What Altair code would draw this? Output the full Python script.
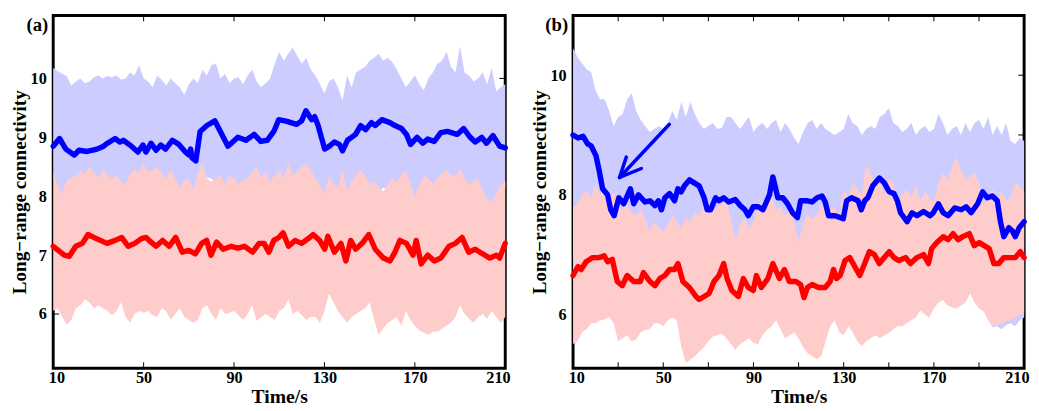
import altair as alt
import pandas as pd

# ---------------- shared grid for the shaded bands ----------------
T_GRID = list(range(10, 211, 2))

# ---------------- Panel (a) ----------------
a_blue_t = [10, 12.8, 15.6, 19.3, 21.4, 25, 29.4, 32.3, 34, 37.4, 39.5, 41, 44.6, 47.5, 49.7, 51, 53.3, 55.5,
            57.6, 59.7, 62.7, 65.6, 68.5, 70, 70.8, 71.4, 73.1, 75, 78, 81.5, 87.3, 88.8, 91.7, 95.3, 98.9,
            101.8, 104.7, 107.6, 109.8, 113.4, 117.7, 119.9, 121.8, 124.3, 125.7, 127.2, 130.1, 132.2, 134.4,
            136.6, 138, 140.2, 143.8, 146, 148.2, 150.8, 152.5, 155.4, 159, 161.2, 164.1, 166.3, 168.1, 171,
            173.5, 175.7, 178.6, 181.5, 184.4, 188.7, 191.6, 194.5, 196.7, 199.6, 201.7, 204.6, 207.5, 210]
a_blue_v = [8.85, 8.98, 8.8, 8.7, 8.78, 8.76, 8.8, 8.85, 8.9, 8.98, 8.92, 8.95, 8.85, 8.75, 8.87, 8.75, 8.9, 8.78,
            8.87, 8.8, 8.95, 8.88, 8.75, 8.7, 8.8, 8.65, 8.6, 9.1, 9.2, 9.28, 8.85, 8.9, 9.0, 8.95, 9.05,
            8.93, 8.95, 9.1, 9.3, 9.27, 9.22, 9.28, 9.45, 9.3, 9.35, 9.2, 8.8, 8.85, 8.92,
            8.88, 8.77, 8.95, 9.05, 9.2, 9.13, 9.25, 9.2, 9.3, 9.25, 9.2, 9.15, 9.05, 8.88, 9.0,
            8.9, 8.97, 8.93, 9.08, 9.1, 9.05, 9.15, 9.0, 8.92, 9.0, 8.9, 9.03, 8.85, 8.82]

a_red_t = [10, 14.9, 17.1, 20, 22.9, 25.4, 28, 30.9, 33.8, 37.4, 40.3, 43.2, 46.1, 49, 51.1, 53.3, 55.5, 58.4,
           61.3, 64.2, 67.1, 70, 72.9, 75.7, 77.9, 79.8, 82.3, 85.2, 88.8, 91.7, 94.6, 98.2, 101.1, 103.3,
           105.4, 107.6, 109.8, 111.7, 114.1, 117, 119.9, 123.5, 125, 127.9, 130.1, 131.5, 134.4, 137.3,
           139.5, 141.6, 143.8, 146.7, 149.6, 152.5, 156.1, 159, 161.2, 163.4, 166.3, 169.2, 170.6, 172.8,
           175.7, 178.6, 181.5, 185.1, 188, 190.9, 193.8, 196.7, 198.8, 203.2, 206.1, 207.5, 210]
a_red_v = [7.15, 7.0, 6.98, 7.15, 7.2, 7.35, 7.3, 7.25, 7.2, 7.25, 7.3, 7.15, 7.2, 7.28, 7.3, 7.22, 7.15, 7.25,
           7.15, 7.3, 7.05, 7.08, 7.02, 7.2, 7.25, 7.0, 7.22, 7.1, 7.15, 7.12, 7.15, 7.05, 7.2, 7.2,
           7.05, 7.25, 7.3, 7.38, 7.15, 7.25, 7.2, 7.3, 7.35, 7.25, 7.1, 7.32, 7.05, 7.2,
           6.9, 7.25, 7.1, 7.2, 7.35, 7.1, 6.95, 6.9, 7.05, 7.25, 7.2, 7.0, 7.25, 6.85,
           7.0, 6.9, 6.95, 7.15, 7.2, 7.3, 7.05, 7.1, 7.05, 6.95, 7.0, 6.95, 7.2]

a_blue_hi = [10.18, 10.12, 10.08, 10.04, 9.88, 9.95, 10.0, 9.92, 9.95, 10.02, 10.05, 10.0, 10.04, 10.02, 10.05,
             9.98, 10.0, 10.1, 10.05, 10.23, 10.0, 9.95, 9.85, 10.05, 9.98, 9.88, 10.0, 9.92, 9.85, 9.72,
             9.9, 10.0, 9.92, 10.15, 10.05, 10.23, 10.25, 10.0, 10.08, 9.92, 10.0, 10.02, 9.9, 10.05, 10.15,
             9.95, 9.85, 9.92, 10.0, 10.25, 10.45, 10.3, 10.42, 10.52, 10.38, 10.25, 10.35, 10.15, 10.05, 9.9,
             9.75, 9.95, 10.0, 9.85, 9.62, 10.05, 9.85, 10.1, 10.15, 10.2, 10.3, 10.35, 10.42, 10.3, 10.35,
             10.28, 10.15, 10.0, 9.85, 9.95, 10.05, 9.9, 9.8, 10.0, 10.1, 10.25, 10.3, 10.45, 10.2, 10.1,
             10.55, 10.1, 10.05, 9.95, 10.0, 10.1, 9.9, 10.18, 9.78, 9.85, 9.9]
a_blue_lo = [8.35, 8.1, 8.02, 8.15, 8.2, 8.2, 8.3, 8.25, 8.3, 8.25, 8.2, 8.3, 8.2, 8.2, 8.25,
             8.15, 8.1, 8.25, 8.3, 8.3, 8.4, 8.3, 8.3, 8.35, 8.25, 8.2, 8.3, 8.2, 8.05, 8.15,
             8.2, 8.05, 8.3, 8.35, 8.32, 8.3, 8.2, 8.25, 8.1, 8.2, 8.2, 8.1, 8.15, 8.2, 8.3,
             8.35, 8.2, 8.3, 8.15, 8.2, 8.3, 8.2, 8.4, 8.25, 8.3, 8.35, 8.4, 8.35, 8.2, 8.1,
             8.0, 8.2, 8.1, 8.05, 8.3, 8.05, 8.15, 8.2, 8.3, 8.25, 8.1, 8.15, 8.05, 8.15, 8.12,
             8.2, 8.15, 8.25, 8.3, 8.1, 7.98, 8.1, 8.2, 8.2, 8.1, 8.2, 8.25, 8.3, 8.25, 8.25,
             8.3, 8.2, 8.1, 8.15, 8.2, 7.95, 7.88, 7.85, 7.95, 8.05, 8.15]
a_red_hi = [8.38, 8.2, 8.04, 8.28, 8.3, 8.35, 8.42, 8.38, 8.5, 8.4, 8.32, 8.45, 8.35, 8.3, 8.36,
            8.25, 8.2, 8.38, 8.45, 8.4, 8.55, 8.42, 8.45, 8.5, 8.38, 8.3, 8.45, 8.3, 8.15, 8.25,
            8.3, 8.1, 8.4, 8.55, 8.3, 8.25, 8.3, 8.35, 8.2, 8.35, 8.3, 8.2, 8.28, 8.3, 8.4,
            8.5, 8.3, 8.42, 8.25, 8.35, 8.45, 8.3, 8.55, 8.35, 8.42, 8.5, 8.55, 8.45, 8.3, 8.2,
            8.05, 8.35, 8.2, 8.15, 8.45, 8.1, 8.25, 8.35, 8.45, 8.35, 8.2, 8.25, 8.15, 8.08, 8.2,
            8.3, 8.25, 8.35, 8.45, 8.2, 8.0, 8.2, 8.35, 8.3, 8.2, 8.3, 8.38, 8.45, 8.35, 8.35,
            8.45, 8.3, 8.2, 8.25, 8.3, 8.1, 7.95, 7.9, 8.05, 8.2, 8.25]
a_red_lo = [6.05, 6.1, 5.95, 5.82, 5.9, 6.1, 6.15, 6.25, 6.2, 6.1, 6.15, 6.1, 6.05, 5.98, 6.05,
            6.2, 5.95, 5.85, 6.0, 6.05, 6.02, 6.05, 5.98, 5.95, 6.1, 6.05, 5.9, 6.0, 6.1, 5.95,
            5.9, 5.85, 5.9, 6.1, 6.15, 6.0, 5.9, 6.1, 6.0, 6.02, 6.05, 5.98, 5.9, 6.0, 6.15,
            5.88, 5.95, 6.0, 5.95, 5.9, 6.05, 6.1, 6.25, 6.0, 6.05, 5.98, 5.9, 5.95, 5.95, 5.85,
            6.05, 6.35, 6.2, 6.05, 5.95, 5.85, 5.95, 6.0, 6.05, 6.1, 6.2, 5.9, 5.65, 5.75, 5.85,
            5.9, 5.95, 5.8, 6.05, 5.9, 5.8, 5.72, 5.68, 5.65, 5.7, 5.7, 5.75, 5.8, 5.85, 5.95,
            6.15, 6.0, 5.92, 5.85, 5.95, 6.0, 5.92, 6.05, 5.95, 5.85, 5.95]

# ---------------- Panel (b) ----------------
b_blue_t = [10, 12.2, 14.4, 16.5, 18, 20.2, 21.6, 23.1, 25.3, 26.7, 28.2, 30.3, 32.5, 35.4, 36.9, 39, 41.9,
            44.1, 46.3, 47.8, 49.2, 50.7, 52.8, 55, 56.5, 57.9, 59.4, 61.6, 63.7, 65.9, 68.1, 69.5, 71,
            73.2, 74.7, 76.8, 79, 81.9, 84.1, 86.2, 87.7, 89.9, 92.1, 94.2, 97.1, 98.6, 100.8, 103,
            105.1, 107.3, 109.5, 110.9, 113.9, 116, 118.2, 120.4, 121.8, 123.3, 126.2, 129.8, 131.3,
            133.5, 136.4, 137.8, 139.3, 140.7, 142.9, 145.8, 148, 150.2, 152.3, 153.8, 155.2, 158.1,
            160.3, 162.5, 165.4, 168.3, 169.7, 172, 174.1, 176.3, 179.2, 182.1, 184.3, 186.5, 189.4,
            191.6, 193.7, 195.9, 198.1, 199.5, 201, 203.2, 204.7, 206.1, 207.8, 210]
b_blue_v = [9.0, 8.95, 8.98, 8.85, 8.82, 8.65, 8.4, 8.1, 8.0, 7.75, 7.65, 7.95, 7.85, 8.1, 7.85, 8.0, 7.88,
            7.9, 7.82, 7.9, 7.75, 7.95, 8.02, 7.9, 8.1, 8.05, 8.15, 8.25, 8.2, 8.15, 7.95, 7.75, 7.75,
            7.95, 7.9, 7.95, 7.88, 7.92, 7.82, 7.75, 7.65, 7.8, 7.8, 7.75, 8.0, 8.3, 7.95, 7.95,
            7.85, 7.7, 7.62, 7.9, 7.9, 7.88, 7.95, 7.98, 7.88, 7.65, 7.65, 7.6, 7.9,
            7.95, 7.9, 7.75, 7.9, 7.95, 8.15, 8.28, 8.2, 8.05, 8.02, 7.9, 7.7, 7.55,
            7.7, 7.65, 7.72, 7.65, 7.7, 7.85, 7.7, 7.65, 7.78, 7.75, 7.8, 7.7, 7.85,
            8.05, 7.95, 7.98, 7.9, 7.55, 7.3, 7.45, 7.4, 7.3, 7.45, 7.55]

b_red_t = [10, 12.2, 13.6, 15.8, 18.7, 21.6, 23.8, 25.3, 27.4, 29.6, 31.8, 34, 36.9, 39.8, 41.2, 44.1, 46.3,
           48.5, 50.7, 52.8, 55, 56.5, 58.7, 61.6, 64.5, 65.9, 68.1, 70.3, 72.5, 74.7, 76.8, 78.3, 80.4,
           83.3, 85.5, 87.7, 89.9, 91.3, 93.5, 96.4, 98.6, 101.5, 103.7, 105.9, 108.8, 110.9, 112.4,
           113.9, 116, 118.9, 121.8, 124, 125.5, 126.9, 128.4, 130.6, 132.7, 134.9, 137.1, 139.3, 141.4,
           143.6, 145.8, 148, 150.2, 152.3, 154.5, 157.4, 159.6, 162.5, 165.4, 167.6, 169, 171.2, 174.1,
           176.3, 178.5, 180.7, 182.8, 185.7, 187.9, 190.1, 192.3, 194.5, 196.6, 198.8, 201, 203.2,
           206.1, 208.3, 210]
b_red_v = [6.65, 6.8, 6.75, 6.88, 6.95, 6.95, 6.98, 6.88, 6.92, 6.55, 6.48, 6.65, 6.55, 6.55, 6.7, 6.55, 6.48,
           6.6, 6.65, 6.75, 6.75, 6.85, 6.55, 6.45, 6.3, 6.25, 6.3, 6.35, 6.55, 6.65, 6.85, 6.6, 6.4,
           6.3, 6.6, 6.45, 6.4, 6.65, 6.45, 6.6, 6.85, 6.6, 6.75, 6.55, 6.55, 6.5, 6.28,
           6.45, 6.5, 6.45, 6.45, 6.55, 6.75, 6.6, 6.65, 6.9, 6.95, 6.8, 6.65, 6.85, 7.05,
           7.0, 6.85, 6.95, 7.05, 6.95, 6.9, 6.95, 6.85, 6.95, 7.0, 6.85, 7.1, 7.2, 7.3,
           7.25, 7.35, 7.25, 7.3, 7.35, 7.15, 7.2, 7.15, 7.1, 6.85, 6.85, 6.95, 6.95,
           6.95, 7.05, 6.95]

b_blue_hi = [10.45, 10.3, 10.2, 10.1, 10.05, 9.75, 9.6, 9.6, 9.4, 9.15, 9.3, 9.35, 9.6, 9.7, 9.4,
             9.25, 9.15, 9.05, 9.1, 9.15, 9.1, 9.2, 9.4, 9.25, 9.55, 9.3, 9.55, 9.35, 9.2, 9.1,
             9.15, 9.2, 9.1, 9.12, 9.3, 9.3, 9.2, 9.1, 9.2, 9.3, 9.05, 9.15, 9.2, 9.1, 9.2,
             9.25, 9.05, 9.2, 9.1, 8.95, 8.85, 9.05, 9.2, 9.25, 9.1, 9.2, 9.1, 9.05, 9.0, 9.05,
             9.1, 9.35, 9.2, 9.15, 9.0, 9.1, 9.15, 9.1, 9.3, 9.35, 9.45, 9.2, 9.15, 9.05, 9.1,
             9.2, 9.0, 9.1, 9.15, 9.05, 9.1, 9.35, 9.2, 9.0, 9.1, 9.15, 9.0, 9.2, 9.05, 9.2,
             9.25, 9.1, 9.3, 9.0, 9.15, 9.0, 9.2, 8.9, 8.85, 8.95, 8.9]
b_blue_lo = [6.9, 6.95, 7.0, 7.05, 7.0, 6.95, 6.9, 6.85, 6.8, 6.7, 6.6, 6.55, 6.6, 6.5, 6.55,
             6.5, 6.45, 6.5, 6.55, 6.5, 6.45, 6.5, 6.6, 6.55, 6.45, 6.35, 6.3, 6.25, 6.3, 6.35,
             6.4, 6.45, 6.5, 6.55, 6.45, 6.4, 6.35, 6.4, 6.45, 6.4, 6.45, 6.5, 6.55, 6.6, 6.55,
             6.5, 6.45, 6.4, 6.45, 6.4, 6.35, 6.3, 6.3, 6.25, 6.2, 6.25, 6.3, 6.4, 6.45, 6.4,
             6.35, 6.4, 6.35, 6.3, 6.25, 6.3, 6.35, 6.4, 6.35, 6.3, 6.3, 6.25, 6.3, 6.3, 6.35,
             6.4, 6.45, 6.5, 6.45, 6.4, 6.45, 6.5, 6.5, 6.45, 6.4, 6.45, 6.4, 6.45, 6.5, 6.4,
             6.3, 6.1, 5.95, 5.78, 5.8, 5.75, 5.82, 5.85, 5.8, 5.9, 5.95]
b_red_hi = [7.8, 7.85, 8.0, 8.07, 7.95, 8.18, 8.0, 8.15, 7.95, 8.05, 7.8, 7.75, 7.85, 7.7, 7.66,
            7.75, 7.6, 7.4, 7.55, 7.45, 7.38, 7.5, 7.65, 7.55, 7.45, 7.62, 7.55, 7.7, 7.65, 7.85,
            7.88, 7.75, 7.8, 7.85, 7.9, 7.6, 7.25, 7.5, 7.6, 7.45, 7.55, 7.8, 7.9, 7.85, 8.0,
            7.75, 7.8, 7.65, 7.8, 7.55, 7.22, 7.5, 7.7, 7.6, 7.65, 7.85, 7.7, 7.75, 7.8, 7.6,
            8.1, 7.95, 8.2, 8.1, 8.0, 8.5, 8.35, 8.15, 8.3, 8.0, 8.26, 8.2, 7.85, 8.0, 8.1,
            7.95, 8.15, 7.9, 8.05, 7.95, 7.87, 8.2, 8.37, 8.25, 8.45, 8.64, 8.4, 8.25, 8.3, 8.37,
            8.2, 7.82, 7.95, 8.1, 7.95, 8.05, 7.9, 7.95, 8.2, 8.15, 8.05]
b_red_lo = [5.5, 5.55, 5.7, 5.75, 5.85, 5.85, 5.9, 5.92, 5.96, 5.85, 5.55, 5.6, 5.65, 5.55, 5.58,
            5.7, 5.74, 5.75, 5.85, 5.85, 5.8, 5.9, 5.95, 5.9, 5.45, 5.19, 5.24, 5.3, 5.38, 5.45,
            5.55, 5.63, 5.65, 5.68, 5.6, 5.5, 5.41, 5.5, 5.55, 5.6, 5.52, 5.5, 5.65, 5.74, 5.8,
            5.9, 5.75, 5.6, 5.65, 5.7, 5.6, 5.45, 5.35, 5.3, 5.25, 5.3, 5.55, 5.8, 5.9, 5.7,
            5.65, 5.8, 5.7, 5.55, 5.47, 5.55, 5.6, 5.65, 5.6, 5.65, 5.69, 5.75, 5.8, 5.8, 5.85,
            5.9, 5.95, 6.07, 6.0, 5.95, 6.1, 6.2, 6.24, 6.15, 6.12, 6.1, 6.15, 6.2, 6.35, 6.2,
            6.1, 6.05, 5.9, 5.8, 5.82, 5.85, 5.88, 5.9, 5.95, 6.0, 6.02]

# arrow annotation in panel (b): shaft and two head strokes (time, value)
arrow_t1 = [52.7, 30.6, 30.6]
arrow_v1 = [9.18, 8.29, 8.29]
arrow_t2 = [30.6, 33.6, 40.3]
arrow_v2 = [8.29, 8.63, 8.44]

# axes
x_domain = [10, 210]
x_labels = [10, 50, 90, 130, 170, 210]
a_xticks = [50, 90, 130, 170]
b_xticks = [30, 50, 70, 90, 110, 130, 150, 170, 190]
a_ydomain = [5.08, 11.07]
b_ydomain = [5.1, 11.0]
a_ylabels = [6, 7, 8, 9, 10]
b_ylabels = [6, 8, 10]
y_ticks = [6, 7, 8, 9, 10]

BLUE = "#0000ff"
RED = "#ff0000"
BLUE_BAND = "#ccccff"
RED_BAND = "#ffcccc"
FONT = "Liberation Serif"
H = 359
TICK = 6


def panel(tag, W, blue_t, blue_v, red_t, red_v, bhi, blo, rhi, rlo, ydom, ylabels, xticks, arrow=False):
    for arr in (bhi, blo, rhi, rlo):
        assert len(arr) == len(T_GRID)
    assert len(blue_t) == len(blue_v) and len(red_t) == len(red_v)
    xs = alt.Scale(domain=x_domain, nice=False, zero=False)
    ys = alt.Scale(domain=ydom, nice=False, zero=False)
    xax = alt.Axis(values=x_labels, title="Time/s", ticks=False, grid=False, domain=False,
                   labelPadding=2, titlePadding=0, format="d", labelFlush=True, labelFlushOffset=5)
    yax = alt.Axis(values=ylabels, title="Long\u2212range connectivity", ticks=False, grid=False,
                   domain=False, labelPadding=7, titlePadding=1, format="d")

    def X(field):
        return alt.X(field, type="quantitative", scale=xs, axis=xax)

    def Y(field):
        return alt.Y(field, type="quantitative", scale=ys, axis=yax)

    bands = pd.DataFrame({"t": T_GRID, "bhi": bhi, "blo": blo, "rhi": rhi, "rlo": rlo})
    blue = pd.DataFrame({"t": blue_t, "v": blue_v})
    red = pd.DataFrame({"t": red_t, "v": red_v})

    ytk = pd.DataFrame({"v": y_ticks})
    ytick_l = alt.Chart(ytk).mark_rule(color="black", strokeWidth=1).encode(
        y=Y("v"), x=alt.value(0), x2=alt.value(TICK))
    ytick_r = alt.Chart(ytk).mark_rule(color="black", strokeWidth=1).encode(
        y=Y("v"), x=alt.value(W - TICK), x2=alt.value(W))

    band_b = alt.Chart(bands).mark_area(color=BLUE_BAND, opacity=1).encode(
        x=X("t"), y=Y("blo"), y2="bhi:Q")
    band_r = alt.Chart(bands).mark_area(color=RED_BAND, opacity=1).encode(
        x=X("t"), y=Y("rlo"), y2="rhi:Q")
    line_b = alt.Chart(blue).mark_line(color=BLUE, strokeWidth=5.5, strokeJoin="round", strokeCap="round").encode(
        x=X("t"), y=Y("v"))
    line_r = alt.Chart(red).mark_line(color=RED, strokeWidth=5.5, strokeJoin="round", strokeCap="round").encode(
        x=X("t"), y=Y("v"))

    xtk = pd.DataFrame({"t": xticks})
    xtick_b = alt.Chart(xtk).mark_rule(color="black", strokeWidth=1).encode(
        x=X("t"), y=alt.value(H), y2=alt.value(H - TICK))
    xtick_t = alt.Chart(xtk).mark_rule(color="black", strokeWidth=1).encode(
        x=X("t"), y=alt.value(0), y2=alt.value(TICK))

    lab = alt.Chart(pd.DataFrame({"s": [tag]})).mark_text(
        font=FONT, fontSize=19, fontWeight="bold", align="right", baseline="middle", color="black"
    ).encode(text="s:N", x=alt.value(-5), y=alt.value(10))

    layers = [ytick_l, ytick_r, band_b, band_r, line_b, line_r, xtick_b, xtick_t]
    if arrow:
        arr = pd.DataFrame({"t1": arrow_t1, "v1": arrow_v1, "t2": arrow_t2, "v2": arrow_v2})
        arrow_layer = alt.Chart(arr).mark_rule(color=BLUE, strokeWidth=3.5, strokeCap="round").encode(
            x=X("t1"), y=Y("v1"), x2="t2:Q", y2="v2:Q")
        layers.append(arrow_layer)
    layers.append(lab)
    return alt.layer(*layers).properties(width=W, height=H)


pa = panel("(a)", 460, a_blue_t, a_blue_v, a_red_t, a_red_v, a_blue_hi, a_blue_lo, a_red_hi, a_red_lo,
           a_ydomain, a_ylabels, a_xticks)
pb = panel("(b)", 459, b_blue_t, b_blue_v, b_red_t, b_red_v, b_blue_hi, b_blue_lo, b_red_hi, b_red_lo,
           b_ydomain, b_ylabels, b_xticks, arrow=True)

chart = alt.hconcat(pa, pb, spacing=16).properties(
    padding={"left": 0, "top": 2, "right": 0, "bottom": 0}
).configure_view(
    stroke="black", strokeWidth=3
).configure_axis(
    labelFont=FONT, labelFontSize=16.5, labelFontWeight="bold", labelColor="black",
    titleFont=FONT, titleFontSize=19.5, titleFontWeight="bold", titleColor="black"
).configure_axisX(titleFontSize=20)

chart.save("out.html", embed_options={"renderer": "svg", "actions": False})
